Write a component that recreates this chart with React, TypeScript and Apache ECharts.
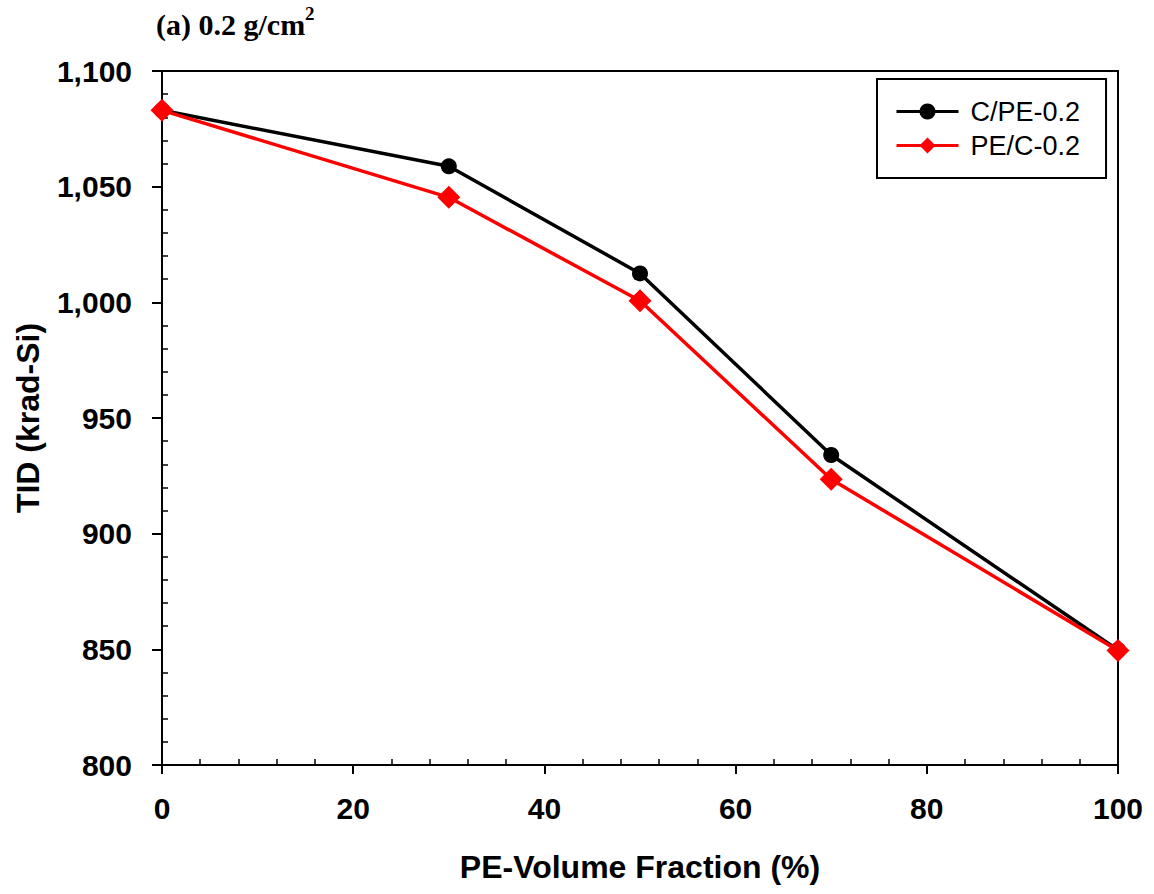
import React, { useEffect, useRef } from "react";
import * as echarts from "echarts";

const xValues = [0, 30, 50, 70, 100];
const cpeValues = [1083, 1058.8, 1012.5, 934, 849.7];
const pecValues = [1083, 1045.4, 1000.7, 923.5, 849.5];
const seriesNames = ["C/PE-0.2", "PE/C-0.2"];
const xAxisName = "PE-Volume Fraction (%)";
const yAxisName = "TID (krad-Si)";
const panelTitle = "(a) 0.2 g/cm";
const panelSup = "2";

const SANS = "'Liberation Sans', Arial, sans-serif";
const SERIF = "'Liberation Serif', 'Times New Roman', serif";

export default function App() {
  const ref = useRef<HTMLDivElement>(null);
  useEffect(() => {
    if (!ref.current) return;
    const chart = echarts.init(ref.current, undefined, { renderer: "svg" });
    const fmt = (v: number) => v.toLocaleString("en-US");
    const option: any = {
      animation: false,
      backgroundColor: "#ffffff",
      title: {
        left: 156,
        top: 4,
        padding: 0,
        text: `{m|${panelTitle}}{s|${panelSup}}`,
        textStyle: {
          rich: {
            m: { fontFamily: SERIF, fontSize: 30, fontWeight: "bold", color: "#000", lineHeight: 40 },
            s: { fontFamily: SERIF, fontSize: 19, fontWeight: "bold", color: "#000", verticalAlign: "top", lineHeight: 26 },
          },
        },
      },
      legend: {
        left: 877,
        top: 79,
        orient: "vertical",
        data: seriesNames,
        borderColor: "#000",
        borderWidth: 2,
        padding: [19, 26, 19, 18],
        itemWidth: 62,
        itemHeight: 20,
        itemGap: 7,
        lineStyle: { width: 3 },
        textStyle: { fontFamily: SANS, fontSize: 27, color: "#000", padding: [0, 0, 0, 7] },
      },
      grid: {
        left: 162,
        top: 71,
        right: 36,
        bottom: 129,
        show: true,
        borderColor: "#000",
        borderWidth: 2,
        backgroundColor: "transparent",
      },
      xAxis: [
        {
          type: "value",
          position: "bottom",
          min: 0,
          max: 100,
          interval: 20,
          name: xAxisName,
          nameLocation: "middle",
          nameGap: 86,
          nameTextStyle: { fontFamily: SANS, fontSize: 32, fontWeight: "bold", color: "#000" },
          axisLine: { show: true, lineStyle: { color: "#000", width: 2 } },
          axisTick: { show: true, inside: false, length: 9, lineStyle: { color: "#000", width: 2 } },
          axisLabel: { fontFamily: SANS, fontSize: 30, fontWeight: "bold", color: "#000", margin: 28 },
          splitLine: { show: false },
        },
        {
          type: "value",
          position: "bottom",
          min: 0,
          max: 100,
          interval: 20,
          axisLine: { show: false },
          axisTick: { show: false, inside: true },
          minorTick: { show: true, splitNumber: 5, length: 6, lineStyle: { color: "#000", width: 1.5 } },
          axisLabel: { show: false },
          splitLine: { show: false },
          minorSplitLine: { show: false },
        },
      ],
      yAxis: [
        {
          type: "value",
          position: "left",
          min: 800,
          max: 1100,
          interval: 50,
          name: yAxisName,
          nameLocation: "middle",
          nameGap: 118,
          nameTextStyle: { fontFamily: SANS, fontSize: 32, fontWeight: "bold", color: "#000" },
          axisLine: { show: true, lineStyle: { color: "#000", width: 2 } },
          axisTick: { show: true, inside: false, length: 10, lineStyle: { color: "#000", width: 2 } },
          axisLabel: { fontFamily: SANS, fontSize: 30, fontWeight: "bold", color: "#000", margin: 30, formatter: fmt },
          splitLine: { show: false },
        },
        {
          type: "value",
          position: "left",
          min: 800,
          max: 1100,
          interval: 50,
          axisLine: { show: false },
          axisTick: { show: false, inside: true },
          minorTick: { show: true, splitNumber: 5, length: 6, lineStyle: { color: "#000", width: 1.5 } },
          axisLabel: { show: false },
          splitLine: { show: false },
          minorSplitLine: { show: false },
        },
      ],
      series: [
        {
          name: seriesNames[0],
          type: "line",
          data: xValues.map((x, i) => [x, cpeValues[i]]),
          symbol: "circle",
          symbolSize: 16,
          color: "#000",
          lineStyle: { color: "#000", width: 3.5 },
          itemStyle: { color: "#000" },
          z: 2,
        },
        {
          name: seriesNames[1],
          type: "line",
          data: xValues.map((x, i) => [x, pecValues[i]]),
          symbol: "diamond",
          symbolSize: 23,
          color: "#ff0000",
          lineStyle: { color: "#ff0000", width: 3.5 },
          itemStyle: { color: "#ff0000" },
          z: 3,
        },
      ],
    };
    chart.setOption(option);
    return () => chart.dispose();
  }, []);
  return (
    <div
      ref={ref}
      style={{ position: "absolute", left: 0, top: 0, width: 1154, height: 894, background: "#fff" }}
    />
  );
}
